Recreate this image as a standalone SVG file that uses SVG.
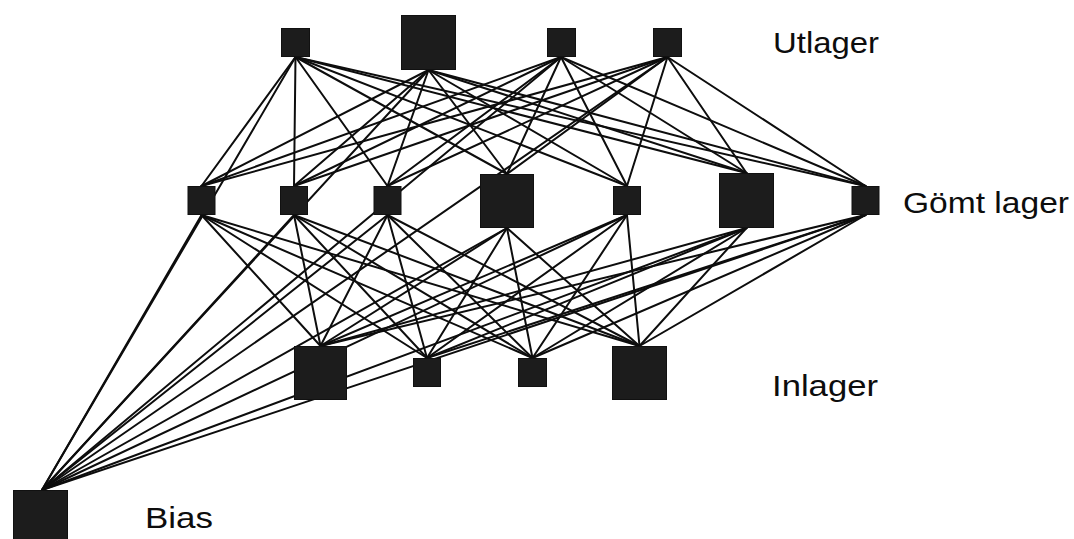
<svg xmlns="http://www.w3.org/2000/svg" width="1074" height="539" viewBox="0 0 1074 539">
  <style>
    .bg { fill: #ffffff; }
    .edge { stroke: #0d0d0d; stroke-width: 2; stroke-linecap: round; fill: none; }
    .unit { fill: #1c1c1c; stroke: #111111; stroke-width: 1; }
    .label { font-family: "Liberation Sans", Arial, Helvetica, sans-serif; font-size: 30px; fill: #0d0d0d; }
  </style>
  <rect class="bg" x="0" y="0" width="1074" height="539"/>

  <!-- weights: drawn first so the units sit on top -->
  <g id="connectors">
    <!-- output layer to hidden layer -->
    <g id="out-hidden">
      <line class="edge" x1="295.5" y1="57" x2="201.5" y2="186"/>
      <line class="edge" x1="295.5" y1="57" x2="294" y2="186"/>
      <line class="edge" x1="295.5" y1="57" x2="387.5" y2="186"/>
      <line class="edge" x1="295.5" y1="57" x2="507" y2="174"/>
      <line class="edge" x1="295.5" y1="57" x2="627" y2="186"/>
      <line class="edge" x1="295.5" y1="57" x2="746.5" y2="173"/>
      <line class="edge" x1="295.5" y1="57" x2="865.5" y2="186"/>

      <line class="edge" x1="428.5" y1="70" x2="201.5" y2="186"/>
      <line class="edge" x1="428.5" y1="70" x2="294" y2="186"/>
      <line class="edge" x1="428.5" y1="70" x2="387.5" y2="186"/>
      <line class="edge" x1="428.5" y1="70" x2="507" y2="174"/>
      <line class="edge" x1="428.5" y1="70" x2="627" y2="186"/>
      <line class="edge" x1="428.5" y1="70" x2="746.5" y2="173"/>
      <line class="edge" x1="428.5" y1="70" x2="865.5" y2="186"/>

      <line class="edge" x1="561" y1="57" x2="201.5" y2="186"/>
      <line class="edge" x1="561" y1="57" x2="294" y2="186"/>
      <line class="edge" x1="561" y1="57" x2="387.5" y2="186"/>
      <line class="edge" x1="561" y1="57" x2="507" y2="174"/>
      <line class="edge" x1="561" y1="57" x2="627" y2="186"/>
      <line class="edge" x1="561" y1="57" x2="746.5" y2="173"/>
      <line class="edge" x1="561" y1="57" x2="865.5" y2="186"/>

      <line class="edge" x1="667.5" y1="57" x2="201.5" y2="186"/>
      <line class="edge" x1="667.5" y1="57" x2="294" y2="186"/>
      <line class="edge" x1="667.5" y1="57" x2="387.5" y2="186"/>
      <line class="edge" x1="667.5" y1="57" x2="507" y2="174"/>
      <line class="edge" x1="667.5" y1="57" x2="627" y2="186"/>
      <line class="edge" x1="667.5" y1="57" x2="746.5" y2="173"/>
      <line class="edge" x1="667.5" y1="57" x2="865.5" y2="186"/>
    </g>

    <!-- hidden layer to input layer -->
    <g id="hidden-in">
      <line class="edge" x1="201.5" y1="215" x2="320.5" y2="346"/>
      <line class="edge" x1="201.5" y1="215" x2="427" y2="358"/>
      <line class="edge" x1="201.5" y1="215" x2="532.5" y2="358"/>
      <line class="edge" x1="201.5" y1="215" x2="639.5" y2="346"/>

      <line class="edge" x1="294" y1="215" x2="320.5" y2="346"/>
      <line class="edge" x1="294" y1="215" x2="427" y2="358"/>
      <line class="edge" x1="294" y1="215" x2="532.5" y2="358"/>
      <line class="edge" x1="294" y1="215" x2="639.5" y2="346"/>

      <line class="edge" x1="387.5" y1="215" x2="320.5" y2="346"/>
      <line class="edge" x1="387.5" y1="215" x2="427" y2="358"/>
      <line class="edge" x1="387.5" y1="215" x2="532.5" y2="358"/>
      <line class="edge" x1="387.5" y1="215" x2="639.5" y2="346"/>

      <line class="edge" x1="507" y1="228" x2="320.5" y2="346"/>
      <line class="edge" x1="507" y1="228" x2="427" y2="358"/>
      <line class="edge" x1="507" y1="228" x2="532.5" y2="358"/>
      <line class="edge" x1="507" y1="228" x2="639.5" y2="346"/>

      <line class="edge" x1="627" y1="215" x2="320.5" y2="346"/>
      <line class="edge" x1="627" y1="215" x2="427" y2="358"/>
      <line class="edge" x1="627" y1="215" x2="532.5" y2="358"/>
      <line class="edge" x1="627" y1="215" x2="639.5" y2="346"/>

      <line class="edge" x1="746.5" y1="228" x2="320.5" y2="346"/>
      <line class="edge" x1="746.5" y1="228" x2="427" y2="358"/>
      <line class="edge" x1="746.5" y1="228" x2="532.5" y2="358"/>
      <line class="edge" x1="746.5" y1="228" x2="639.5" y2="346"/>

      <line class="edge" x1="865.5" y1="215" x2="320.5" y2="346"/>
      <line class="edge" x1="865.5" y1="215" x2="427" y2="358"/>
      <line class="edge" x1="865.5" y1="215" x2="532.5" y2="358"/>
      <line class="edge" x1="865.5" y1="215" x2="639.5" y2="346"/>
    </g>

    <!-- bias unit to hidden and output layers -->
    <g id="bias-edges">
      <line class="edge" x1="42" y1="490" x2="201.5" y2="215"/>
      <line class="edge" x1="42" y1="490" x2="294" y2="215"/>
      <line class="edge" x1="42" y1="490" x2="387.5" y2="215"/>
      <line class="edge" x1="42" y1="490" x2="507" y2="228"/>
      <line class="edge" x1="42" y1="490" x2="627" y2="215"/>
      <line class="edge" x1="42" y1="490" x2="746.5" y2="228"/>
      <line class="edge" x1="42" y1="490" x2="865.5" y2="215"/>
      <line class="edge" x1="42" y1="490" x2="295.5" y2="57"/>
      <line class="edge" x1="42" y1="490" x2="428.5" y2="70"/>
      <line class="edge" x1="42" y1="490" x2="561" y2="57"/>
      <line class="edge" x1="42" y1="490" x2="667.5" y2="57"/>
    </g>
  </g>

  <!-- output layer -->
  <g id="out-1"><rect class="unit" x="281.5" y="28.5" width="28" height="28"/></g>
  <g id="out-2"><rect class="unit" x="401.5" y="15.5" width="54" height="54"/></g>
  <g id="out-3"><rect class="unit" x="547.5" y="28.5" width="28" height="28"/></g>
  <g id="out-4"><rect class="unit" x="653.5" y="28.5" width="28" height="28"/></g>

  <!-- hidden layer -->
  <g id="hid-1"><rect class="unit" x="188" y="186.5" width="27" height="28"/></g>
  <g id="hid-2"><rect class="unit" x="280.5" y="186.5" width="27" height="28"/></g>
  <g id="hid-3"><rect class="unit" x="374" y="186.5" width="27" height="28"/></g>
  <g id="hid-4"><rect class="unit" x="480.5" y="174.5" width="53" height="53"/></g>
  <g id="hid-5"><rect class="unit" x="613.5" y="186.5" width="27" height="28"/></g>
  <g id="hid-6"><rect class="unit" x="719.5" y="173.5" width="54" height="54"/></g>
  <g id="hid-7"><rect class="unit" x="852" y="186.5" width="27" height="28"/></g>

  <!-- input layer -->
  <g id="in-1"><rect class="unit" x="294.5" y="346.5" width="52" height="53"/></g>
  <g id="in-2"><rect class="unit" x="413.5" y="358.5" width="27" height="28"/></g>
  <g id="in-3"><rect class="unit" x="518.5" y="358.5" width="28" height="28"/></g>
  <g id="in-4"><rect class="unit" x="612.5" y="346.5" width="54" height="53"/></g>

  <!-- bias unit -->
  <g id="bias"><rect class="unit" x="13.5" y="490.5" width="54" height="54"/></g>

  <!-- layer names -->
  <text class="label" x="773" y="53" textLength="106" lengthAdjust="spacingAndGlyphs">Utlager</text>
  <text class="label" x="903" y="213" textLength="166" lengthAdjust="spacingAndGlyphs">Gömt lager</text>
  <text class="label" x="772" y="396" textLength="106" lengthAdjust="spacingAndGlyphs">Inlager</text>
  <text class="label" x="145" y="528" textLength="68" lengthAdjust="spacingAndGlyphs">Bias</text>
</svg>
